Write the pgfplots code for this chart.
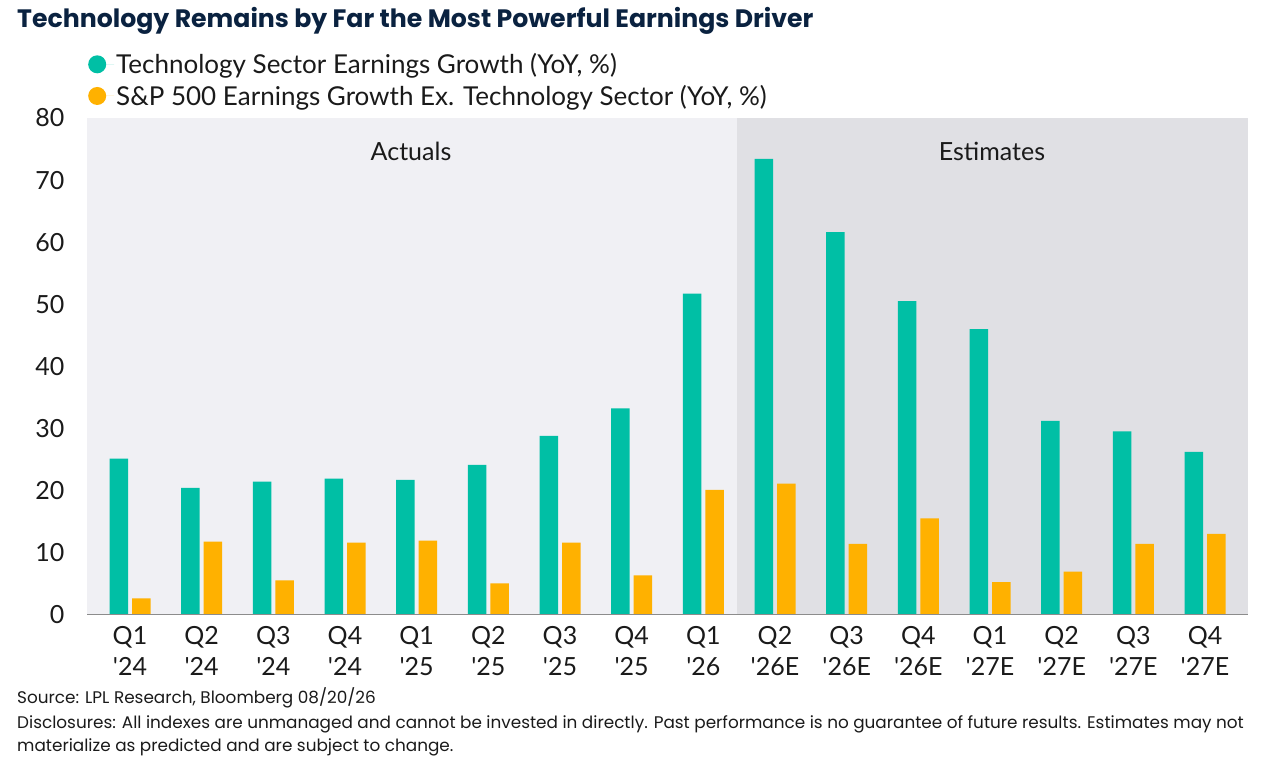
\documentclass[border=0pt]{standalone}
\usepackage{fontspec}
\setmainfont{Lato}
\newfontfamily\footfont{Poppins}
\usepackage{pgfplots}
\pgfplotsset{compat=1.18}
\definecolor{teal1}{HTML}{00BFA5}
\definecolor{gold1}{HTML}{FFB100}
\definecolor{bgA}{HTML}{F0F0F4}
\definecolor{bgE}{HTML}{E0E0E4}
\definecolor{navy}{HTML}{0A2240}
\definecolor{txt}{HTML}{1A1A1A}
\newcommand\q{\textquotesingle}
\begin{document}
\begin{tikzpicture}
\useasboundingbox (0pt,0pt) rectangle (1265pt,-761pt);
\begin{axis}[
  at={(87pt,-614.5pt)}, anchor=south west,
  scale only axis, width=1161pt, height=496.5pt,
  xmin=-0.6, xmax=15.6, ymin=0, ymax=80,
  ytick={0,10,...,80},
  xtick={0,...,15},
  xticklabels={{Q1\\\q24},{Q2\\\q24},{Q3\\\q24},{Q4\\\q24},{Q1\\\q25},{Q2\\\q25},{Q3\\\q25},{Q4\\\q25},{Q1\\\q26},{Q2\\\q26E},{Q3\\\q26E},{Q4\\\q26E},{Q1\\\q27E},{Q2\\\q27E},{Q3\\\q27E},{Q4\\\q27E}},
  major tick length=0pt,
  axis line style={draw=none},
  /pgf/number format/assume math mode=true,
  tick label style={font=\fontsize{25}{31}\selectfont, text=txt},
  xticklabel style={align=center, yshift=-8pt},
  yticklabel style={xshift=-19pt},
  ybar, bar width=18.5pt,
  legend style={draw=none, fill=none, at={(axis description cs:0,1)}, anchor=south west,
    xshift=1pt, yshift=9pt, inner sep=0pt, row sep=6pt,
    font=\fontsize{26}{30}\selectfont, text=txt, cells={anchor=west}},
  legend image code/.code={\fill[#1] (0pt,0pt) circle (9pt); \path (-9pt,0pt) -- (17pt,0pt);},
]
\fill[bgA] (axis cs:-0.6,0) rectangle (axis cs:8.47,80);
\fill[bgE] (axis cs:8.47,0) rectangle (axis cs:15.6,80);
\addplot[fill=teal1, draw=none, bar shift=-11.25pt] coordinates {
(0,25.1) (1,20.4) (2,21.4) (3,21.9) (4,21.7) (5,24.1) (6,28.8) (7,33.2)
(8,51.7) (9,73.4) (10,61.6) (11,50.5) (12,46.0) (13,31.2) (14,29.5) (15,26.2)};
\addlegendentry{Technology Sector Earnings Growth (YoY, \%)}
\addplot[fill=gold1, draw=none, bar shift=11.25pt] coordinates {
(0,2.6) (1,11.75) (2,5.5) (3,11.6) (4,11.9) (5,5.0) (6,11.6) (7,6.3)
(8,20.1) (9,21.1) (10,11.4) (11,15.5) (12,5.2) (13,6.9) (14,11.4) (15,13.0)};
\addlegendentry{S\&P 500 Earnings Growth Ex. Technology Sector (YoY, \%)}
\draw[color=gray!90, line width=1.5pt] (axis cs:-0.6,0) -- (axis cs:15.6,0);
\end{axis}
\node[anchor=base west, inner sep=0pt, text=navy, font=\footfont\fontsize{25.2}{28}\selectfont\bfseries] at (17pt,-27pt) {Technology Remains by Far the Most Powerful Earnings Driver};
\node[inner sep=0pt, text=txt, font=\fontsize{25}{28}\selectfont] at (411pt,-151pt) {Actuals};
\node[inner sep=0pt, text=txt, font=\fontsize{25}{28}\selectfont] at (992pt,-151pt) {Estimates};
\node[anchor=base west, inner sep=0pt, text=txt, font=\footfont\fontsize{16.85}{20}\selectfont] at (17pt,-703pt) {Source: LPL Research, Bloomberg 08/20/26};
\node[anchor=base west, inner sep=0pt, text=txt, font=\footfont\fontsize{16.85}{20}\selectfont] at (17pt,-728pt) {Disclosures: All indexes are unmanaged and cannot be invested in directly. Past performance is no guarantee of future results. Estimates may not};
\node[anchor=base west, inner sep=0pt, text=txt, font=\footfont\fontsize{16.85}{20}\selectfont] at (17pt,-751pt) {materialize as predicted and are subject to change.};
\end{tikzpicture}
\end{document}
